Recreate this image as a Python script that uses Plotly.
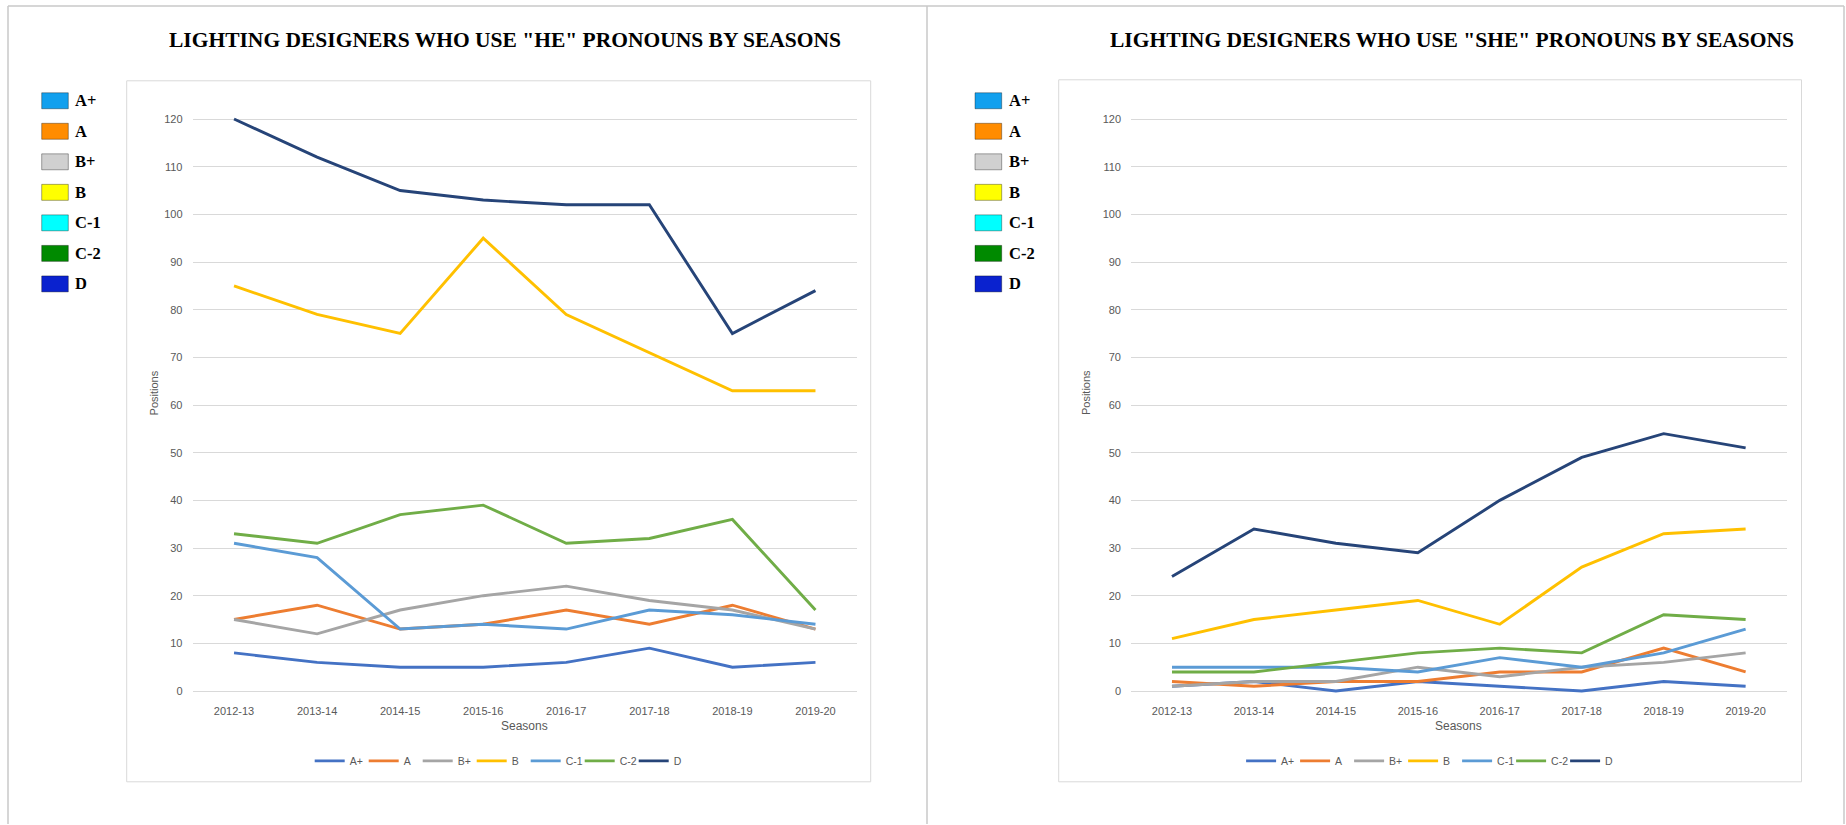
import plotly.graph_objects as go

# ---------------- data ----------------
seasons = ["2012-13", "2013-14", "2014-15", "2015-16", "2016-17", "2017-18", "2018-19", "2019-20"]
categories = ["A+", "A", "B+", "B", "C-1", "C-2", "D"]

he_a_plus = [8, 6, 5, 5, 6, 9, 5, 6]
he_a = [15, 18, 13, 14, 17, 14, 18, 13]
he_b_plus = [15, 12, 17, 20, 22, 19, 17, 13]
he_b = [85, 79, 75, 95, 79, 71, 63, 63]
he_c1 = [31, 28, 13, 14, 13, 17, 16, 14]
he_c2 = [33, 31, 37, 39, 31, 32, 36, 17]
he_d = [120, 112, 105, 103, 102, 102, 75, 84]

she_a_plus = [1, 2, 0, 2, 1, 0, 2, 1]
she_a = [2, 1, 2, 2, 4, 4, 9, 4]
she_b_plus = [1, 2, 2, 5, 3, 5, 6, 8]
she_b = [11, 15, 17, 19, 14, 26, 33, 34]
she_c1 = [5, 5, 5, 4, 7, 5, 8, 13]
she_c2 = [4, 4, 6, 8, 9, 8, 16, 15]
she_d = [24, 34, 31, 29, 40, 49, 54, 51]

he_series = [he_a_plus, he_a, he_b_plus, he_b, he_c1, he_c2, he_d]
she_series = [she_a_plus, she_a, she_b_plus, she_b, she_c1, she_c2, she_d]

line_colors = ["#4472C4", "#ED7D31", "#A5A5A5", "#FFC000", "#5B9BD5", "#70AD47", "#264478"]
side_colors = ["#12A0EE", "#FF8C00", "#D0D0D0", "#FFFF00", "#00FFFF", "#008A00", "#0A22CF"]

titles = ['LIGHTING DESIGNERS WHO USE "HE" PRONOUNS BY SEASONS',
          'LIGHTING DESIGNERS WHO USE "SHE" PRONOUNS BY SEASONS']

# ---------------- layout helpers ----------------
W, H = 1846, 825


def px(x):
    return x / W


def py(y):
    return 1 - y / H


unit = (691.7 - 118.3) / 120.0  # pixels per value unit
y_top_px = 118.3 - unit * 1.0
y_bot_px = 691.7 + unit * 1.0

panels = [
    dict(xd=(192.5, 857.0), area=(126.7, 80, 870.7, 782.7), ytitle_x=154.4,
         sq_x=(41.7, 68.3), lab_x=73.3, title_x=505),
    dict(xd=(1131.0, 1786.6), area=(1058.7, 79, 1801.5, 782.7), ytitle_x=1086,
         sq_x=(975.0, 1001.7), lab_x=1007.3, title_x=1452),
]

fig = go.Figure()

grid_col = "#D9D9D9"
tick_col = "#595959"
tick_font = dict(family="Liberation Sans, Arial, sans-serif", size=11, color=tick_col)

for pi, (series, p) in enumerate(zip([he_series, she_series], panels)):
    xa = "x" if pi == 0 else "x2"
    ya = "y" if pi == 0 else "y2"
    lg = "legend" if pi == 0 else "legend2"
    for name, vals, col in zip(categories, series, line_colors):
        fig.add_trace(go.Scatter(
            x=seasons, y=vals, name=name, mode="lines",
            line=dict(color=col, width=2.9),
            xaxis=xa, yaxis=ya, legend=lg, showlegend=True,
        ))

axis_common_x = dict(type="category", range=[-0.5, 7.5], showgrid=False, showline=False,
                     zeroline=False, ticks="", tickfont=tick_font, ticklabelstandoff=7,
                     fixedrange=True)
axis_common_y = dict(range=[-1, 121], tickmode="linear", tick0=0, dtick=10,
                     showgrid=True, gridcolor=grid_col, gridwidth=1,
                     zeroline=True, zerolinecolor=grid_col, zerolinewidth=1,
                     showline=False, ticks="", tickfont=tick_font, ticklabelstandoff=9,
                     fixedrange=True)

fig.update_layout(
    xaxis=dict(domain=[px(panels[0]["xd"][0]), px(panels[0]["xd"][1])], anchor="y", **axis_common_x),
    yaxis=dict(domain=[py(y_bot_px), py(y_top_px)], anchor="x", **axis_common_y),
    xaxis2=dict(domain=[px(panels[1]["xd"][0]), px(panels[1]["xd"][1])], anchor="y2", **axis_common_x),
    yaxis2=dict(domain=[py(y_bot_px), py(y_top_px)], anchor="x2", **axis_common_y),
)

legend_common = dict(orientation="h", yanchor="middle", xanchor="center", y=py(761.7),
                     font=dict(family="Liberation Sans, Arial, sans-serif", size=10.5, color=tick_col),
                     itemwidth=30, entrywidth=9, entrywidthmode="pixels",
                     bgcolor="rgba(0,0,0,0)", tracegroupgap=0)
fig.update_layout(
    legend=dict(x=px((panels[0]["area"][0] + panels[0]["area"][2]) / 2), **legend_common),
    legend2=dict(x=px((panels[1]["area"][0] + panels[1]["area"][2]) / 2), **legend_common),
)

shapes = []
annotations = []

# outer panel frame
frame_col = "#C8C8C8"
shapes.append(dict(type="line", xref="paper", yref="paper", x0=px(8), x1=px(1844), y0=py(5), y1=py(5),
                   line=dict(color=frame_col, width=1.5)))
for xv in (8, 927, 1844):
    shapes.append(dict(type="line", xref="paper", yref="paper", x0=px(xv), x1=px(xv), y0=py(5), y1=py(825),
                       line=dict(color=frame_col, width=1.5)))

row_y = [100 + i * 30.6 for i in range(len(categories))]

for pi, p in enumerate(panels):
    x0, y0, x1, y1 = p["area"]
    shapes.append(dict(type="rect", xref="paper", yref="paper", x0=px(x0), x1=px(x1), y0=py(y1), y1=py(y0),
                       line=dict(color="#D9D9D9", width=1), fillcolor="rgba(0,0,0,0)", layer="below"))
    # title
    annotations.append(dict(text="<b>" + titles[pi] + "</b>", xref="paper", yref="paper",
                            x=px(p["title_x"]), y=py(39), xanchor="center", yanchor="middle", showarrow=False,
                            font=dict(family="Liberation Serif, Times New Roman, serif", size=21.5,
                                      color="#000000")))
    # axis titles
    annotations.append(dict(text="Positions", xref="paper", yref="paper", x=px(p["ytitle_x"]), y=py(393),
                            xanchor="center", yanchor="middle", showarrow=False, textangle=-90,
                            font=dict(family="Liberation Sans, Arial, sans-serif", size=11, color=tick_col)))
    xmid = (p["xd"][0] + p["xd"][1]) / 2
    annotations.append(dict(text="Seasons", xref="paper", yref="paper", x=px(xmid), y=py(727),
                            xanchor="center", yanchor="middle", showarrow=False,
                            font=dict(family="Liberation Sans, Arial, sans-serif", size=12, color=tick_col)))
    # side colour key
    for name, col, ry in zip(categories, side_colors, row_y):
        shapes.append(dict(type="rect", xref="paper", yref="paper", x0=px(p["sq_x"][0]), x1=px(p["sq_x"][1]),
                           y0=py(ry + 8), y1=py(ry - 8), fillcolor=col,
                           line=dict(color="rgba(0,0,0,0.35)", width=1)))
        annotations.append(dict(text="<b>" + name + "</b>", xref="paper", yref="paper", x=px(p["lab_x"]), y=py(ry),
                                xanchor="left", yanchor="middle", showarrow=False,
                                font=dict(family="Liberation Serif, Times New Roman, serif", size=16.5,
                                          color="#000000")))

fig.update_layout(
    width=W, height=H, margin=dict(l=0, r=0, t=0, b=0),
    paper_bgcolor="#FFFFFF", plot_bgcolor="rgba(0,0,0,0)",
    shapes=shapes, annotations=annotations,
)

fig.write_html("out.html", config=dict(displayModeBar=False),
               post_script="document.body.style.margin='0px';document.body.style.overflow='hidden';")
